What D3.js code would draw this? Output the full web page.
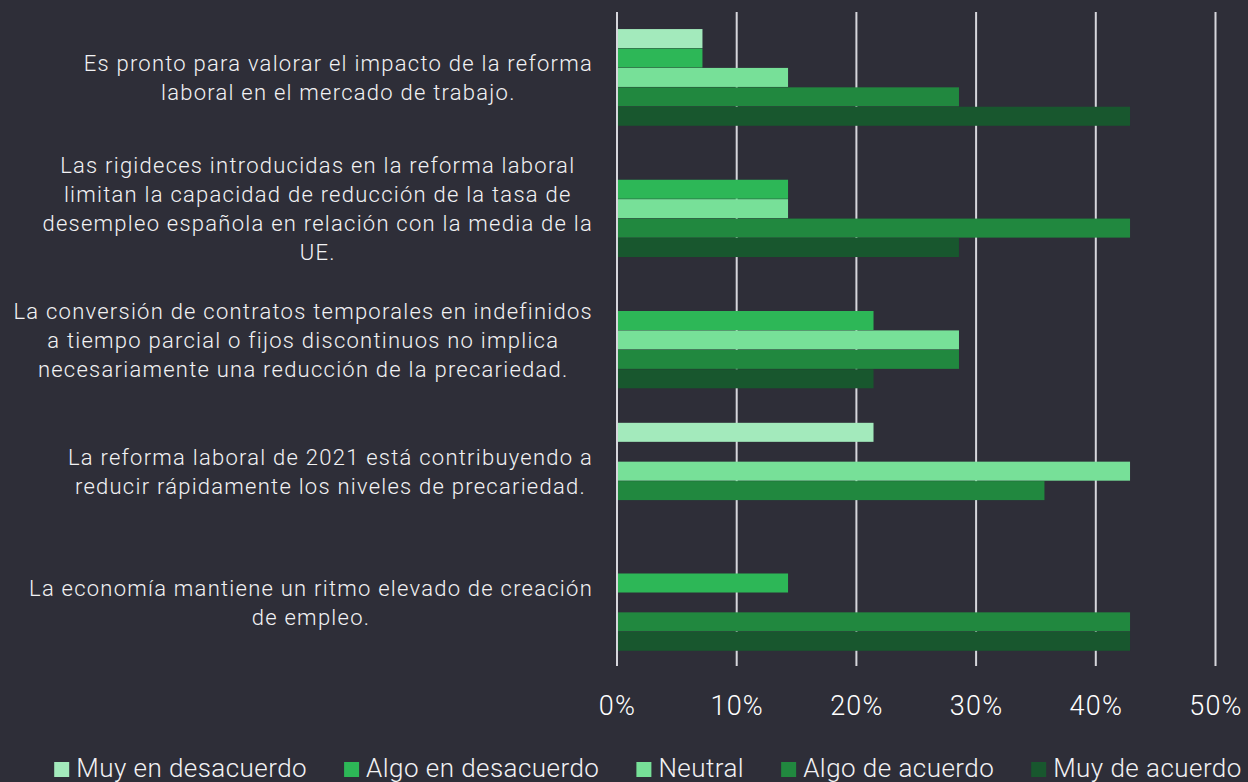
<!DOCTYPE html>
<html>
<head>
<meta charset="utf-8">
<script src="https://cdn.jsdelivr.net/npm/d3@7"></script>
<style>
  html, body { margin: 0; padding: 0; background: #2e2e38; }
  svg { display: block; }
</style>
</head>
<body>
<svg id="chart" width="1248" height="782"></svg>
<script>
// ---- Data ----
const categories = [
  "Es pronto para valorar el impacto de la reforma laboral en el mercado de trabajo.",
  "Las rigideces introducidas en la reforma laboral limitan la capacidad de reducción de la tasa de desempleo española en relación con la media de la UE.",
  "La conversión de contratos temporales en indefinidos a tiempo parcial o fijos discontinuos no implica necesariamente una reducción de la precariedad.",
  "La reforma laboral de 2021 está contribuyendo a reducir rápidamente los niveles de precariedad.",
  "La economía mantiene un ritmo elevado de creación de empleo."
];
const categoryLines = [
  ["Es pronto para valorar el impacto de la reforma", "laboral en el mercado de trabajo."],
  ["Las rigideces introducidas en la reforma laboral", "limitan la capacidad de reducción de la tasa de", "desempleo española en relación con la media de la", "UE."],
  ["La conversión de contratos temporales en indefinidos", "a tiempo parcial o fijos discontinuos no implica", "necesariamente una reducción de la precariedad."],
  ["La reforma laboral de 2021 está contribuyendo a", "reducir rápidamente los niveles de precariedad."],
  ["La economía mantiene un ritmo elevado de creación", "de empleo."]
];
const seriesNames = ["Muy en desacuerdo", "Algo en desacuerdo", "Neutral", "Algo de acuerdo", "Muy de acuerdo"];
const muyEnDesacuerdo = [7.14, 0, 0, 21.43, 0];
const algoEnDesacuerdo = [7.14, 14.29, 21.43, 0, 14.29];
const neutral = [14.29, 14.29, 28.57, 42.86, 0];
const algoDeAcuerdo = [28.57, 42.86, 28.57, 35.71, 42.86];
const muyDeAcuerdo = [42.86, 28.57, 21.43, 0, 42.86];
const seriesValues = [muyEnDesacuerdo, algoEnDesacuerdo, neutral, algoDeAcuerdo, muyDeAcuerdo];
const seriesColors = ["#a3eabc", "#2db757", "#77e098", "#21883f", "#18572e"];
const tickValues = [0, 10, 20, 30, 40, 50];

// ---- Layout ----
const svg = d3.select("#chart");
const plotTop = 12, plotBottom = 668.25;
const x0 = 617, x1 = 1215.5;

const x = d3.scaleLinear().domain([0, 50]).range([x0, x1]);
const y = d3.scaleBand().domain(d3.range(categories.length))
  .range([plotTop, plotBottom]).paddingInner(0.26).paddingOuter(0.13);
const ySub = d3.scaleBand().domain(d3.range(seriesNames.length)).range([0, y.bandwidth()]);

// Gridlines
svg.append("g").selectAll("line").data(tickValues).join("line")
  .attr("x1", d => x(d)).attr("x2", d => x(d))
  .attr("y1", plotTop).attr("y2", 666)
  .attr("stroke", "#d6d6dc").attr("stroke-width", 2);

// Bars
const groups = svg.append("g").selectAll("g").data(categories).join("g")
  .attr("transform", (d, i) => `translate(0,${y(i)})`);
groups.selectAll("rect")
  .data((d, i) => seriesValues.map((vals, s) => ({ s, v: vals[i] })).filter(o => o.v > 0))
  .join("rect")
  .attr("x", x(0) + 1)
  .attr("y", o => ySub(o.s))
  .attr("width", o => x(o.v) - x(0) - 1)
  .attr("height", ySub.bandwidth() - 0.4)
  .attr("fill", o => seriesColors[o.s]);

// Category labels (block right aligned, lines centered)
const labelFont = "Roboto, 'Noto Sans', sans-serif";
const labelSize = 22;
const lineH = 29;
const labelRight = 593;
categoryLines.forEach((lines, i) => {
  const g = svg.append("g");
  const texts = lines.map(l => g.append("text").text(l)
    .attr("font-family", labelFont).attr("font-size", labelSize)
    .attr("font-weight", 300).attr("letter-spacing", 1.25)
    .attr("fill", "#f2f2f4").attr("text-anchor", "middle"));
  const bw = d3.max(texts, t => t.node().getComputedTextLength());
  const cx = labelRight - bw / 2;
  const cy = y(i) + y.bandwidth() / 2;
  texts.forEach((t, k) => {
    const lc = cy + (k - (lines.length - 1) / 2) * lineH;
    t.attr("x", cx).attr("y", lc + labelSize * 0.36);
  });
});

// X axis tick labels
const xAxis = d3.axisBottom(x).tickValues(tickValues).tickFormat(d => d + "%").tickSize(0).tickPadding(0);
const axG = svg.append("g").attr("transform", "translate(0,715)").call(xAxis);
axG.select(".domain").remove();
axG.selectAll("text")
  .attr("font-family", labelFont).attr("font-size", 27).attr("font-weight", 300)
  .attr("letter-spacing", 1.2)
  .attr("fill", "#ffffff").attr("dy", 0).attr("y", 0);

// Legend
const legSize = 26, sq = 15, sqGap = 7, itemGap = 37, legBase = 777, legCenter = 648;
const leg = svg.append("g");
const items = seriesNames.map((name, s) => {
  const g = leg.append("g");
  g.append("rect").attr("width", sq).attr("height", sq).attr("y", legBase - sq).attr("fill", seriesColors[s]);
  const t = g.append("text").text(name).attr("x", sq + sqGap).attr("y", legBase)
    .attr("font-family", labelFont).attr("font-size", legSize).attr("font-weight", 300)
    .attr("letter-spacing", 0.45)
    .attr("fill", "#f2f2f4");
  return { g, w: sq + sqGap + t.node().getComputedTextLength() };
});
const total = d3.sum(items, d => d.w) + itemGap * (items.length - 1);
let cur = legCenter - total / 2;
items.forEach(it => { it.g.attr("transform", `translate(${cur},0)`); cur += it.w + itemGap; });
</script>
</body>
</html>
